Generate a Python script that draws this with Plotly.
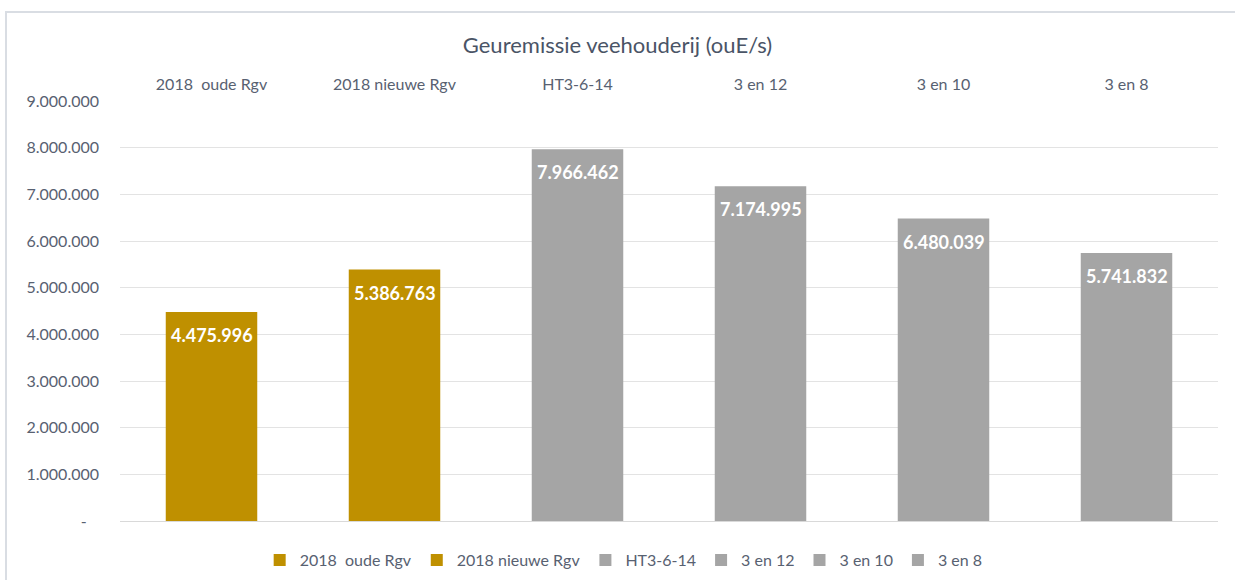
import plotly.graph_objects as go

categories = ["2018\u00a0 oude Rgv", "2018 nieuwe Rgv", "HT3-6-14", "3 en 12", "3 en 10", "3 en 8"]
values = [4475996, 5386763, 7966462, 7174995, 6480039, 5741832]
value_labels = ["4.475.996", "5.386.763", "7.966.462", "7.174.995", "6.480.039", "5.741.832"]
colors = ["#BF9000", "#BF9000", "#A5A5A5", "#A5A5A5", "#A5A5A5", "#A5A5A5"]
y_tickvals = [0, 1000000, 2000000, 3000000, 4000000, 5000000, 6000000, 7000000, 8000000, 9000000]
y_ticktext = ["-\u00a0\u00a0\u00a0", "1.000.000", "2.000.000", "3.000.000", "4.000.000",
              "5.000.000", "6.000.000", "7.000.000", "8.000.000", "9.000.000"]
title_text = "Geuremissie veehouderij (ouE/s)"

FONT = "Lato, 'Open Sans', sans-serif"
TXT = "#586171"

fig = go.Figure()
for cat, val, col in zip(categories, values, colors):
    fig.add_trace(go.Bar(x=[cat], y=[val], name=cat, marker=dict(color=col, line=dict(width=0)),
                         width=0.5, hoverinfo="x+y"))

for cat, val, lab in zip(categories, values, value_labels):
    fig.add_annotation(x=cat, y=val, text="<b>" + lab + "</b>", showarrow=False,
                       yanchor="middle", yshift=-23, font=dict(family=FONT, size=18, color="white"))

fig.update_layout(
    width=1235, height=580,
    margin=dict(l=120, r=17, t=101, b=59, autoexpand=False),
    paper_bgcolor="white", plot_bgcolor="white",
    barmode="overlay",
    font=dict(family=FONT, color=TXT, size=16),
    title=dict(text=title_text, x=0.5, xref="container", xanchor="center",
               y=1 - 45 / 580, yref="container", yanchor="middle",
               font=dict(family=FONT, size=22, color="#4A5466")),
    xaxis=dict(type="category", side="top", showgrid=False, showline=False, ticks="",
               tickfont=dict(family=FONT, size=16, color=TXT), ticklabelstandoff=7),
    yaxis=dict(range=[0, 9000000], tickvals=y_tickvals, ticktext=y_ticktext,
               gridcolor="#E3E3E3", gridwidth=1, zeroline=True, zerolinecolor="#D9D9D9",
               zerolinewidth=1, showline=False, ticks="", ticklabelstandoff=20,
               tickfont=dict(family=FONT, size=16, color=TXT)),
    legend=dict(orientation="h", x=0.505, xref="container", xanchor="center",
                y=1 - 560 / 580, yref="container", yanchor="middle",
                font=dict(family=FONT, size=16, color=TXT), itemwidth=30,
                tracegroupgap=0, itemclick=False),
    showlegend=True,
)

fig.add_shape(type="rect", xref="paper", yref="paper",
              x0=(6 - 120) / 1098, x1=(1245 - 120) / 1098,
              y0=(521 - 600) / 420, y1=(521 - 12) / 420,
              line=dict(color="#D9DDE3", width=2), fillcolor="rgba(0,0,0,0)", layer="below")

fig.write_html("out.html", config={"displayModeBar": False},
               post_script="document.body.style.margin='0';document.body.style.overflow='hidden';")
